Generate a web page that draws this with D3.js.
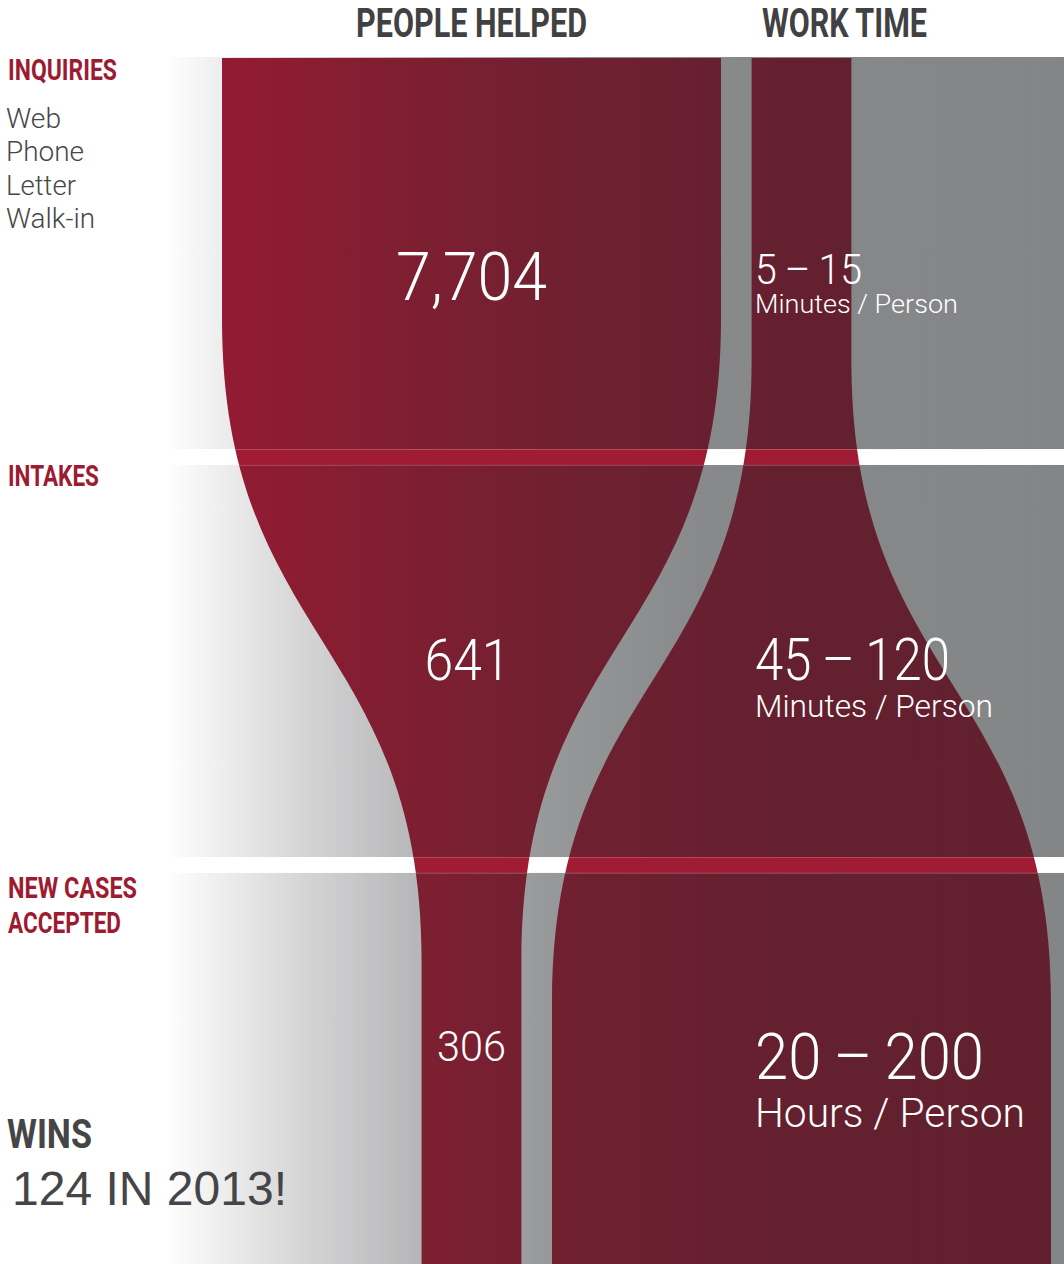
<!DOCTYPE html>
<html>
<head>
<meta charset="utf-8">
<script src="https://cdn.jsdelivr.net/npm/d3@7"></script>
<style>
  html, body { margin: 0; padding: 0; background: #fff; }
  svg { display: block; }
  .cond { font-family: "Roboto", "Liberation Sans Narrow", "DejaVu Sans Condensed", sans-serif; font-weight: 700; }
  .light { font-family: "Roboto", "Lato", "Liberation Sans", sans-serif; font-weight: 300; }
  .reg { font-family: "Liberation Sans", "Roboto", sans-serif; font-weight: 400; }
</style>
</head>
<body>
<svg id="chart"></svg>
<script>
const width = 1064;
const height = 1264;

// data
const stages = [["INQUIRIES"], ["INTAKES"], ["NEW CASES", "ACCEPTED"]];
const channels = ["Web", "Phone", "Letter", "Walk-in"];
const columns = ["PEOPLE HELPED", "WORK TIME"];
const peopleHelped = [7704, 641, 306];
const workLow = [5, 45, 20];
const workHigh = [15, 120, 200];
const workUnit = ["Minutes / Person", "Minutes / Person", "Hours / Person"];
// relative flow widths, first stage -> last stage
const peopleWidth = [5, 1];
const workWidth = [1, 5];
const winsCount = 124;
const winsYear = 2013;

const svg = d3.select("#chart")
    .attr("width", width)
    .attr("height", height);

const y = d3.scaleBand()
    .domain(d3.range(stages.length))
    .range([57, 1265])
    .paddingInner(0.039);

const x = d3.scalePoint()
    .domain(columns)
    .range([471.5, 801.5]);

const w = d3.scaleLinear()
    .domain([0, 5])
    .range([0, 499]);

const defs = svg.append("defs");

function addGradient(id, stops) {
    const g = defs.append("linearGradient")
        .attr("id", id)
        .attr("gradientUnits", "userSpaceOnUse")
        .attr("x1", 0).attr("x2", width)
        .attr("y1", 0).attr("y2", 0);
    g.selectAll("stop")
        .data(stops)
        .join("stop")
        .attr("offset", d => d[0] / width)
        .attr("stop-color", d => d[1]);
}

addGradient("bgGrad", [[0, "#fff"], [165, "#fff"], [300, "#d6d6d7"], [420, "#b6b6b8"], [540, "#98999b"], [700, "#88898b"], [1064, "#848587"]]);
addGradient("redGrad", [[222, "#931b33"], [420, "#7d1f31"], [550, "#712030"], [720, "#672030"], [850, "#63202f"], [1064, "#62202f"]]);

// flow shape: straight sides, one S-curve from width w0 to w1
function flowPath(cx, w0, w1, ya, yb, top, bottom) {
    const ym = (ya + yb) / 2;
    const l0 = cx - w0 / 2, r0 = cx + w0 / 2;
    const l1 = cx - w1 / 2, r1 = cx + w1 / 2;
    const p = d3.path();
    p.moveTo(l0, top);
    p.lineTo(l0, ya);
    p.bezierCurveTo(l0, ym, l1, ym, l1, yb);
    p.lineTo(l1, bottom);
    p.lineTo(r1, bottom);
    p.lineTo(r1, yb);
    p.bezierCurveTo(r1, ym, r0, ym, r0, ya);
    p.lineTo(r0, top);
    p.closePath();
    return p.toString();
}

const midY = y(1) + y.bandwidth() / 2;
const curveHalf = 321;
const flows = [
    { col: columns[0], widths: peopleWidth, shift: -21 },
    { col: columns[1], widths: workWidth, shift: 21 }
].map(f => flowPath(
    x(f.col), w(f.widths[0]), w(f.widths[1]),
    midY + f.shift - curveHalf, midY + f.shift + curveHalf,
    y(0) + 1, height
));

// background
svg.append("rect")
    .attr("x", 0).attr("y", y(0))
    .attr("width", width).attr("height", height - y(0))
    .attr("fill", "url(#bgGrad)");

svg.selectAll(".flow")
    .data(flows)
    .join("path")
    .attr("class", "flow")
    .attr("d", d => d)
    .attr("fill", "url(#redGrad)");

defs.append("clipPath").attr("id", "flowClip")
    .selectAll("path")
    .data(flows)
    .join("path")
    .attr("d", d => d);

// separators between stages
const gaps = d3.range(1, stages.length).map(i => [y(i - 1) + y.bandwidth(), y(i)]);

svg.selectAll(".gap")
    .data(gaps)
    .join("rect")
    .attr("class", "gap")
    .attr("x", 0).attr("y", d => d[0])
    .attr("width", width).attr("height", d => d[1] - d[0])
    .attr("fill", "#fff");

const gapRed = svg.append("g").attr("clip-path", "url(#flowClip)");
gapRed.selectAll("rect")
    .data(gaps)
    .join("rect")
    .attr("x", 0).attr("y", d => d[0])
    .attr("width", width).attr("height", d => d[1] - d[0])
    .attr("fill", "#a01c34");
gapRed.selectAll("line")
    .data(gaps.flat())
    .join("line")
    .attr("x1", 0).attr("x2", width)
    .attr("y1", d => d + 0.5).attr("y2", d => d + 0.5)
    .attr("stroke", "#fff")
    .attr("stroke-opacity", 0.18);

// column headers
const headerX = { "PEOPLE HELPED": [356, 231], "WORK TIME": [762, 165] };
svg.selectAll(".header")
    .data(columns)
    .join("text")
    .attr("class", "header cond")
    .attr("x", d => headerX[d][0])
    .attr("y", 37)
    .attr("textLength", d => headerX[d][1])
    .attr("lengthAdjust", "spacingAndGlyphs")
    .attr("font-size", 40)
    .attr("fill", "#414143")
    .text(d => d);

// stage labels
const stageLen = [[109], [91], [129, 113]];
const stageDy = [23, 21, 25];
stages.forEach((lines, i) => {
    svg.append("g")
        .selectAll("text")
        .data(lines)
        .join("text")
        .attr("class", "cond")
        .attr("x", 8)
        .attr("y", (d, j) => y(i) + stageDy[i] + j * 35)
        .attr("textLength", (d, j) => stageLen[i][j])
        .attr("lengthAdjust", "spacingAndGlyphs")
        .attr("font-size", 30)
        .attr("fill", "#9d1b30")
        .text(d => d);
});

// inquiry channels
const chanLen = [55, 78, 70, 89];
svg.append("g")
    .selectAll("text")
    .data(channels)
    .join("text")
    .attr("class", "light")
    .attr("x", 6)
    .attr("y", (d, i) => 128 + i * 33.4)
    .attr("textLength", (d, i) => chanLen[i])
    .attr("lengthAdjust", "spacingAndGlyphs")
    .attr("font-size", 27)
    .attr("fill", "#47474a")
    .text(d => d);

// people helped numbers
const fmt = d3.format(",");
const peopleSize = [66, 57, 43];
const peopleLen = [151, 86, 69];
const peopleDy = [243, 215, 188];
svg.append("g")
    .selectAll("text")
    .data(peopleHelped)
    .join("text")
    .attr("class", "light")
    .attr("x", (d, i) => x(columns[0]) + (i === 1 ? -4 : 0))
    .attr("y", (d, i) => y(i) + peopleDy[i])
    .attr("text-anchor", "middle")
    .attr("textLength", (d, i) => peopleLen[i])
    .attr("lengthAdjust", "spacingAndGlyphs")
    .attr("font-size", (d, i) => peopleSize[i])
    .attr("fill", "#fff")
    .text(d => fmt(d));

// work time ranges
const rangeSize = [43, 60, 65];
const rangeLen = [107, 195, 229];
const rangeDy = [227, 215, 206];
const unitSize = [26, 32, 41];
const unitLen = [203, 238, 270];
const unitDy = [256, 252, 254];
const work = svg.append("g");
work.selectAll(".range")
    .data(workLow)
    .join("text")
    .attr("class", "range light")
    .attr("x", 755)
    .attr("y", (d, i) => y(i) + rangeDy[i])
    .attr("textLength", (d, i) => rangeLen[i])
    .attr("lengthAdjust", "spacingAndGlyphs")
    .attr("font-size", (d, i) => rangeSize[i])
    .attr("fill", "#fff")
    .text((d, i) => `${d}\u2009\u2013\u2009${workHigh[i]}`);
work.selectAll(".unit")
    .data(workUnit)
    .join("text")
    .attr("class", "unit light")
    .attr("x", 755)
    .attr("y", (d, i) => y(i) + unitDy[i])
    .attr("textLength", (d, i) => unitLen[i])
    .attr("lengthAdjust", "spacingAndGlyphs")
    .attr("font-size", (d, i) => unitSize[i])
    .attr("fill", "#fff")
    .text(d => d);

// wins
svg.append("text")
    .attr("class", "cond")
    .attr("x", 7).attr("y", 1148)
    .attr("textLength", 85)
    .attr("lengthAdjust", "spacingAndGlyphs")
    .attr("font-size", 40)
    .attr("fill", "#454547")
    .text("WINS");

svg.append("text")
    .attr("class", "reg")
    .attr("x", 12).attr("y", 1205)
    .attr("textLength", 275)
    .attr("lengthAdjust", "spacingAndGlyphs")
    .attr("font-size", 48)
    .attr("fill", "#454547")
    .text(`${winsCount} IN ${winsYear}!`);
</script>
</body>
</html>
